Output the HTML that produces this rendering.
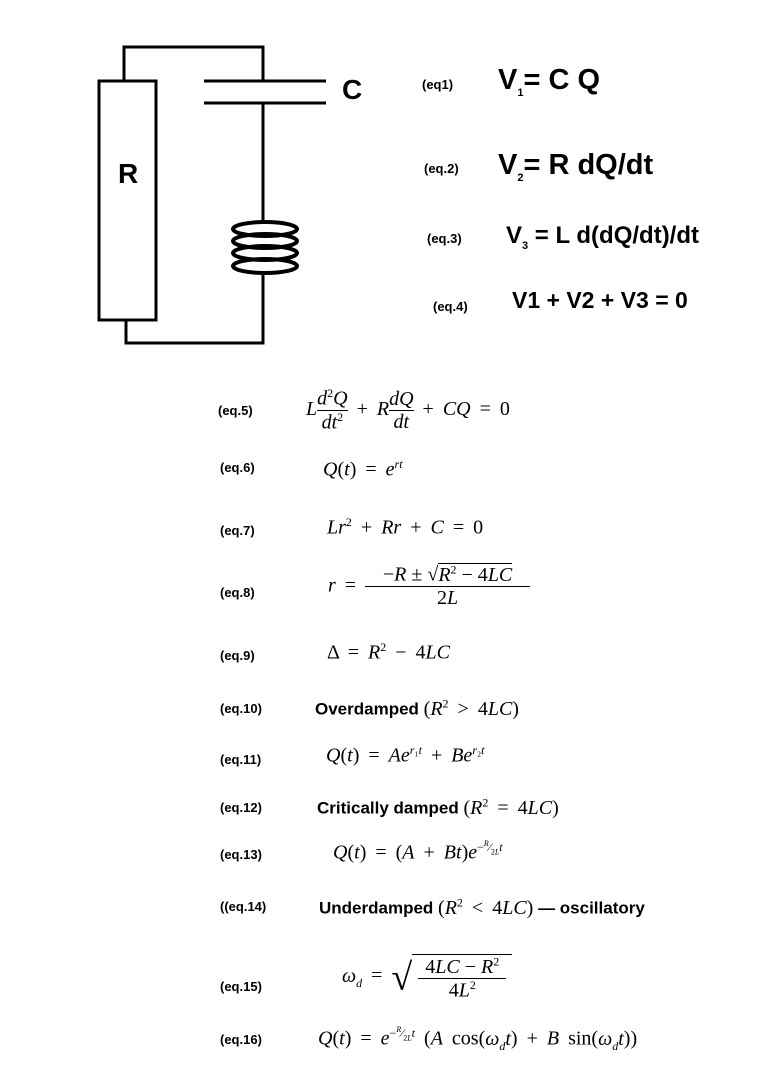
<!DOCTYPE html>
<html><head><meta charset="utf-8"><style>
body{margin:0;width:767px;height:1079px;background:#fff;position:relative;overflow:hidden;font-family:"Liberation Sans",sans-serif;color:#000}
.a{position:absolute;white-space:nowrap}
.lb{font-size:13px;font-weight:bold}
.big{font-weight:bold;font-size:29px}
.m{font-family:"Liberation Serif",serif;font-size:20px;word-spacing:4px;font-weight:normal}
.m i{font-style:italic}
.t{font-size:17px;font-weight:bold}
.frac{display:inline-block;vertical-align:middle;text-align:center;word-spacing:0}
.frac>span{display:block;line-height:1.1}
.frac>span.n{border-bottom:1px solid #000}
sup{font-size:12px;word-spacing:0}
</style></head><body>
<svg class="a" style="left:0;top:0" width="767" height="360">
<g fill="none" stroke="#000" stroke-width="3">
<polyline points="124,81 124,47 263,47 263,81"/>
<rect x="99" y="81" width="57" height="239"/>
<polyline points="126,320 126,343 263,343 263,275"/>
<line x1="204" y1="81" x2="326" y2="81"/>
<line x1="204" y1="103" x2="326" y2="103"/>
<line x1="263" y1="103" x2="263" y2="222"/>
<g stroke-width="4">
<ellipse cx="265" cy="229" rx="32" ry="7"/>
<ellipse cx="265" cy="241" rx="32" ry="7"/>
<ellipse cx="265" cy="253" rx="32" ry="7"/>
<ellipse cx="265" cy="266" rx="32" ry="7"/>
</g>
</g>
</svg>
<div class="a" style="left:342px;top:74px;font-size:28px;font-weight:bold">C</div>
<div class="a" style="left:118px;top:158px;font-size:28px;font-weight:bold">R</div>

<div class="a lb" style="left:422px;top:77px">(eq1)</div>
<div class="a big" style="left:498px;top:64px">V<sub style="font-size:11px">1</sub>= C Q</div>
<div class="a lb" style="left:424px;top:161px">(eq.2)</div>
<div class="a big" style="left:498px;top:149px">V<sub style="font-size:11px">2</sub>= R dQ/dt</div>
<div class="a lb" style="left:427px;top:231px">(eq.3)</div>
<div class="a" style="left:506px;top:222px;font-size:24px;font-weight:bold">V<sub style="font-size:11px">3</sub> = L d(dQ/dt)/dt</div>
<div class="a lb" style="left:433px;top:299px">(eq.4)</div>
<div class="a" style="left:512px;top:287px;font-size:23px;font-weight:bold">V1 + V2 + V3 = 0</div>

<div class="a lb" style="left:218px;top:403px">(eq.5)</div>
<div class="a m" style="left:306px;top:387px"><i>L</i><span class="frac"><span class="n"><i>d</i><sup>2</sup><i>Q</i></span><span><i>dt</i><sup>2</sup></span></span> + <i>R</i><span class="frac"><span class="n"><i>dQ</i></span><span><i>dt</i></span></span> + <i>CQ</i> = 0</div>
<div class="a lb" style="left:220px;top:460px">(eq.6)</div>
<div class="a m" style="left:323px;top:457px"><i>Q</i>(<i>t</i>) = <i>e</i><sup><i>rt</i></sup></div>
<div class="a lb" style="left:220px;top:523px">(eq.7)</div>
<div class="a m" style="left:327px;top:515px"><i>Lr</i><sup>2</sup> + <i>Rr</i> + <i>C</i> = 0</div>
<div class="a lb" style="left:220px;top:585px">(eq.8)</div>
<div class="a m" style="left:328px;top:563px"><span style="vertical-align:middle"><i>r</i> = </span><span class="frac" style="width:165px"><span class="n">−<i>R</i> ± √<span style="border-top:1px solid #000"><i>R</i><sup>2</sup> − 4<i>LC</i></span></span><span>2<i>L</i></span></span></div>
<div class="a lb" style="left:220px;top:648px">(eq.9)</div>
<div class="a m" style="left:327px;top:640px">Δ = <i>R</i><sup>2</sup> − 4<i>LC</i></div>
<div class="a lb" style="left:220px;top:701px">(eq.10)</div>
<div class="a t" style="left:315px;top:696px">Overdamped <span class="m">(<i>R</i><sup>2</sup> &gt; 4<i>LC</i>)</span></div>
<div class="a lb" style="left:220px;top:752px">(eq.11)</div>
<div class="a m" style="left:326px;top:743px"><i>Q</i>(<i>t</i>) = <i>Ae</i><sup><i>r</i>₁<i>t</i></sup> + <i>Be</i><sup><i>r</i>₂<i>t</i></sup></div>
<div class="a lb" style="left:220px;top:800px">(eq.12)</div>
<div class="a t" style="left:317px;top:795px">Critically damped <span class="m">(<i>R</i><sup>2</sup> = 4<i>LC</i>)</span></div>
<div class="a lb" style="left:220px;top:847px">(eq.13)</div>
<div class="a m" style="left:333px;top:839px"><i>Q</i>(<i>t</i>) = (<i>A</i> + <i>Bt</i>)<i>e</i><sup>−<sup style="font-size:8px"><i>R</i></sup>⁄<sub style="font-size:8px">2<i>L</i></sub><i>t</i></sup></div>
<div class="a lb" style="left:220px;top:899px">((eq.14)</div>
<div class="a t" style="left:319px;top:895px">Underdamped <span class="m">(<i>R</i><sup>2</sup> &lt; 4<i>LC</i>)</span> — oscillatory</div>
<div class="a lb" style="left:220px;top:979px">(eq.15)</div>
<div class="a m" style="left:342px;top:954px"><span style="vertical-align:middle"><i>ω<sub style="font-size:12px">d</sub></i> = </span><span style="font-size:38px;vertical-align:middle">√</span><span class="frac" style="border-top:1px solid #000;width:100px"><span class="n" style="margin:0 6px"><span>4<i>LC</i> − <i>R</i><sup>2</sup></span></span><span>4<i>L</i><sup>2</sup></span></span></div>
<div class="a lb" style="left:220px;top:1032px">(eq.16)</div>
<div class="a m" style="left:318px;top:1025px"><i>Q</i>(<i>t</i>) = <i>e</i><sup>−<sup style="font-size:8px"><i>R</i></sup>⁄<sub style="font-size:8px">2<i>L</i></sub><i>t</i></sup> (<i>A</i> cos(<i>ω<sub style="font-size:12px">d</sub>t</i>) + <i>B</i> sin(<i>ω<sub style="font-size:12px">d</sub>t</i>))</div>
</body></html>
